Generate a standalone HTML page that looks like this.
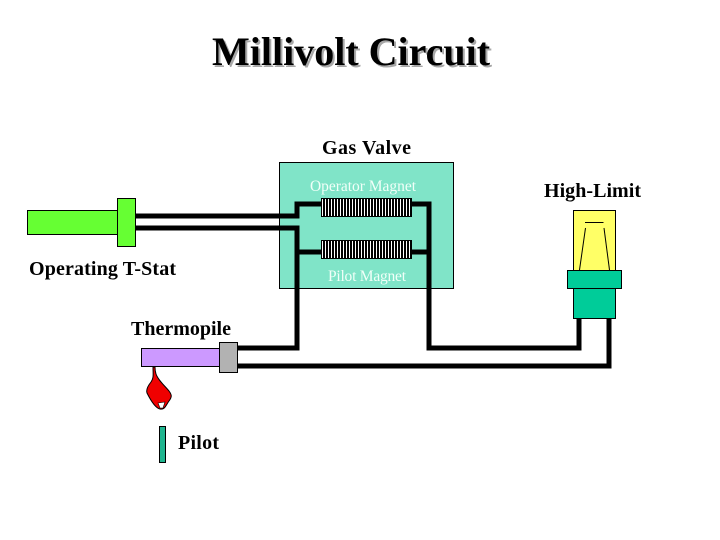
<!DOCTYPE html>
<html><head><meta charset="utf-8"><style>
html,body{margin:0;padding:0;background:#fff;width:720px;height:540px;overflow:hidden}
svg{display:block}
text{font-family:"Liberation Serif",serif}
.l{font-size:20px;font-weight:bold;fill:#000}
.m{fill:#f0fff8;font-size:15.5px}
</style></head><body>
<svg width="720" height="540" viewBox="0 0 720 540" xmlns="http://www.w3.org/2000/svg">
<text x="214" y="67" font-size="40" font-weight="bold" fill="#a8a8a8">Millivolt Circuit</text>
<text x="212" y="65" font-size="40" font-weight="bold" fill="#000">Millivolt Circuit</text>
<rect x="279.5" y="162.5" width="174" height="126" fill="#80e4c8" stroke="#000" stroke-width="1"/>
<g fill="none" stroke="#000" stroke-width="5" stroke-linejoin="miter">
<path d="M135 216H297V204H321"/>
<path d="M135 228H297V348H238"/>
<path d="M297 252H321"/>
<path d="M411 204H429V348H579V318"/>
<path d="M411 252H429"/>
<path d="M238 366H609V318"/>
</g>
<rect x="321.5" y="198.5" width="90" height="18" fill="#fff" stroke="#000"/>
<line x1="323" y1="207.5" x2="411" y2="207.5" stroke="#000" stroke-width="18" stroke-dasharray="2 1" shape-rendering="crispEdges"/>
<rect x="321.5" y="240.5" width="90" height="18" fill="#fff" stroke="#000"/>
<line x1="323" y1="249.5" x2="411" y2="249.5" stroke="#000" stroke-width="18" stroke-dasharray="2 1" shape-rendering="crispEdges"/>
<text class="m" x="310" y="191" textLength="106">Operator Magnet</text>
<text class="m" x="328" y="281" textLength="78">Pilot Magnet</text>
<text class="l" x="322" y="154" textLength="89">Gas Valve</text>
<text class="l" x="544" y="197" textLength="97">High-Limit</text>
<text class="l" x="29" y="275" textLength="147">Operating T-Stat</text>
<text class="l" x="131" y="335" textLength="100">Thermopile</text>
<text class="l" x="178" y="449" textLength="41">Pilot</text>
<rect x="27.5" y="210.5" width="90" height="24" fill="#66ff33" stroke="#000"/>
<rect x="117.5" y="198.5" width="18" height="48" fill="#66ff33" stroke="#000"/>
<rect x="141.5" y="348.5" width="78" height="18" fill="#cc99ff" stroke="#000"/>
<rect x="219.5" y="342.5" width="18" height="30" fill="#b2b2b2" stroke="#000"/>
<path d="M153 367C153 374 154 378 151 382C147 387 146 390 147 393C150 399 155 408 160 409C165 410 166 405 169 401C172 397 172 395 169 391C164 385 158 380 156 374C155 371 155 369 155 367Z" fill="#f00000" stroke="#000" stroke-width="1"/>
<path d="M158 403L165 402L163 408L160 408Z" fill="#fff" stroke="#000" stroke-width=".6"/>
<rect x="159.5" y="426.5" width="6" height="36" fill="#1fb58f" stroke="#000"/>
<rect x="573.5" y="210.5" width="42" height="60" fill="#ffff66" stroke="#000"/>
<g fill="none" stroke="#000" stroke-width="1">
<path d="M579.5 270L585.5 228"/>
<path d="M585 222.5H603.5"/>
<path d="M604 228L609.5 270"/>
</g>
<rect x="567.5" y="270.5" width="54" height="18" fill="#00cc99" stroke="#000"/>
<rect x="573.5" y="288.5" width="42" height="30" fill="#00cc99" stroke="#000"/>
</svg>
</body></html>
